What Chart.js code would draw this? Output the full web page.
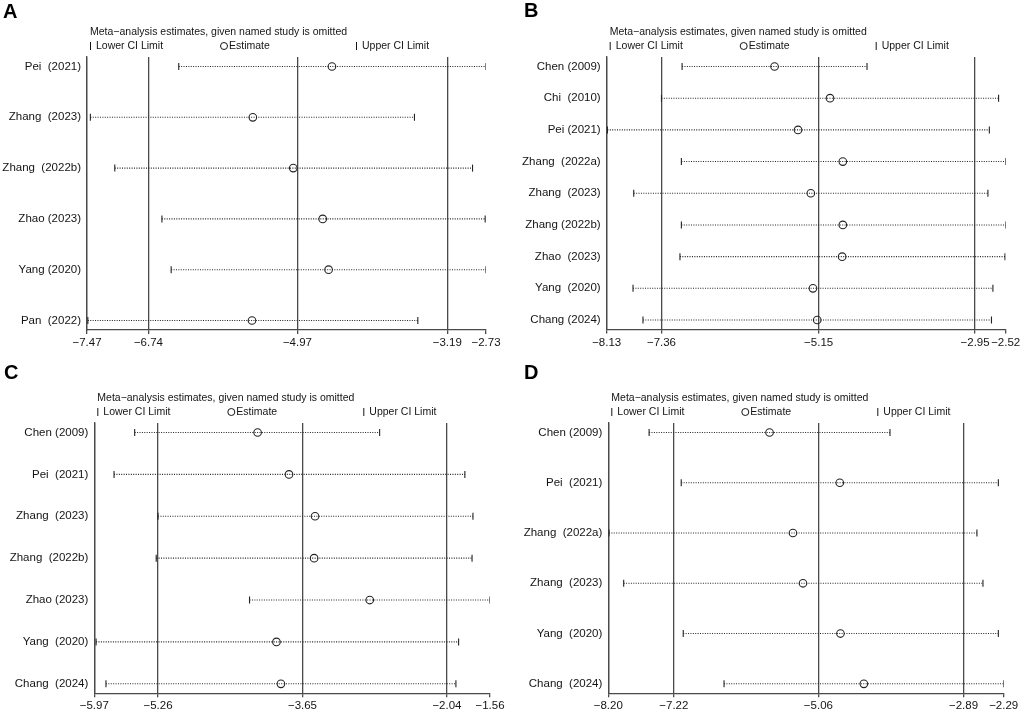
<!DOCTYPE html>
<html>
<head>
<meta charset="utf-8">
<script src="https://cdn.jsdelivr.net/npm/chart.js@4.4.1/dist/chart.umd.min.js"></script>
<style>
  html, body { margin: 0; padding: 0; background: #fff; }
  .panel { position: absolute; width: 512px; }
</style>
</head>
<body>
<div class="panel" style="left:0;top:0;height:355px"><canvas id="chartA"></canvas></div>
<div class="panel" style="left:512px;top:0;height:355px"><canvas id="chartB"></canvas></div>
<div class="panel" style="left:0;top:355px;height:357px"><canvas id="chartC"></canvas></div>
<div class="panel" style="left:512px;top:355px;height:357px"><canvas id="chartD"></canvas></div>
<script>
const TITLE = 'Meta\u2212analysis estimates, given named study is omitted';

// panel A
const A_STUDIES = ['Pei  (2021)', 'Zhang  (2023)', 'Zhang  (2022b)', 'Zhao (2023)', 'Yang (2020)', 'Pan  (2022)'];
const A_LOWER = [-6.38, -7.43, -7.14, -6.58, -6.47, -7.46];
const A_EST   = [-4.56, -5.50, -5.02, -4.67, -4.60, -5.51];
const A_UPPER = [-2.73, -3.58, -2.89, -2.74, -2.73, -3.54];
const A_TICKS = [-7.47, -6.74, -4.97, -3.19, -2.73];

// panel B
const B_STUDIES = ['Chen (2009)', 'Chi  (2010)', 'Pei (2021)', 'Zhang  (2022a)', 'Zhang  (2023)', 'Zhang (2022b)', 'Zhao  (2023)', 'Yang  (2020)', 'Chang (2024)'];
const B_LOWER = [-7.07, -7.36, -8.12, -7.08, -7.75, -7.08, -7.10, -7.76, -7.62];
const B_EST   = [-5.77, -4.99, -5.44, -4.81, -5.26, -4.81, -4.82, -5.23, -5.17];
const B_UPPER = [-4.47, -2.62, -2.75, -2.52, -2.77, -2.52, -2.53, -2.70, -2.72];
const B_TICKS = [-8.13, -7.36, -5.15, -2.95, -2.52];

// panel C
const C_STUDIES = ['Chen (2009)', 'Pei  (2021)', 'Zhang  (2023)', 'Zhang  (2022b)', 'Zhao (2023)', 'Yang  (2020)', 'Chang  (2024)'];
const C_LOWER = [-5.52, -5.75, -5.26, -5.28, -4.24, -5.95, -5.84];
const C_EST   = [-4.15, -3.80, -3.51, -3.52, -2.90, -3.94, -3.89];
const C_UPPER = [-2.79, -1.84, -1.75, -1.76, -1.56, -1.91, -1.94];
const C_TICKS = [-5.97, -5.26, -3.65, -2.04, -1.56];

// panel D
const D_STUDIES = ['Chen (2009)', 'Pei  (2021)', 'Zhang  (2022a)', 'Zhang  (2023)', 'Yang  (2020)', 'Chang  (2024)'];
const D_LOWER = [-7.59, -7.11, -8.19, -7.97, -7.08, -6.47];
const D_EST   = [-5.79, -4.74, -5.44, -5.29, -4.73, -4.38];
const D_UPPER = [-3.99, -2.37, -2.69, -2.60, -2.37, -2.29];
const D_TICKS = [-8.20, -7.22, -5.06, -2.89, -2.29];

const FONT = '"Liberation Sans", Arial, sans-serif';
const AXIS_COLOR = '#4a4a4a';
const INK = '#141414';

// title, legend row and panel letter above the plot
const headerPlugin = {
  id: 'header',
  afterDraw(chart, args, opts) {
    const { ctx, chartArea: { left, top } } = chart;
    ctx.save();
    ctx.fillStyle = '#000';
    ctx.textBaseline = 'middle';
    ctx.font = 'bold 20px ' + FONT;
    ctx.fillText(opts.letter, opts.lx, opts.ly);

    ctx.fillStyle = INK;
    ctx.font = '10.5px ' + FONT;
    ctx.fillText(TITLE, left + 3, top - 25);

    const y = top - 11;
    ctx.strokeStyle = INK;
    ctx.lineWidth = 1;
    ctx.beginPath();
    ctx.moveTo(left + 3.5, y - 4); ctx.lineTo(left + 3.5, y + 4);
    ctx.moveTo(left + 269.5, y - 4); ctx.lineTo(left + 269.5, y + 4);
    ctx.stroke();
    ctx.beginPath();
    ctx.arc(left + 137, y, 3.5, 0, Math.PI * 2);
    ctx.stroke();
    ctx.fillText('Lower CI Limit', left + 9, y);
    ctx.fillText('Estimate', left + 142, y);
    ctx.fillText('Upper CI Limit', left + 275, y);
    ctx.restore();
  }
};

function fmt(v) {
  return (v < 0 ? '\u2212' : '') + Math.abs(v).toFixed(2);
}

function makePanel(id, studies, lower, est, upper, ticks, box) {
  const n = studies.length;
  // keep roughly 9.5px between the outer rows and the axis ends
  const plotH = box.bottom - box.top;
  const step = (plotH - 19) / (n - 1);
  const padU = 9.5 / step;
  const xMax = ticks[ticks.length - 1];

  const datasets = studies.map((s, i) => ({
    type: 'line',
    data: [{ x: lower[i], y: i + 1 }, { x: upper[i], y: i + 1 }],
    borderColor: '#222',
    borderWidth: 1.1,
    borderDash: [1, 1.4],
    pointStyle: 'line',
    rotation: 90,
    pointRadius: 3.5,
    pointBorderWidth: 1.1,
    pointBorderColor: '#222',
    pointHoverRadius: 3.5,
    order: 2
  }));
  datasets.push({
    type: 'scatter',
    data: est.map((v, i) => ({ x: v, y: i + 1 })),
    pointStyle: 'circle',
    pointRadius: 3.8,
    pointBorderWidth: 1.1,
    pointBorderColor: '#222',
    pointBackgroundColor: 'rgba(0,0,0,0)',
    order: 1
  });

  new Chart(document.getElementById(id), {
    type: 'scatter',
    data: { datasets },
    plugins: [headerPlugin],
    options: {
      responsive: true,
      maintainAspectRatio: false,
      animation: false,
      events: [],
      layout: { padding: { left: 0, top: box.top, right: box.width - box.right, bottom: 0 } },
      plugins: {
        legend: { display: false },
        tooltip: { enabled: false },
        header: { letter: box.letter, lx: box.lx, ly: box.ly }
      },
      scales: {
        x: {
          type: 'linear',
          min: ticks[0],
          max: xMax,
          afterBuildTicks: s => { s.ticks = ticks.map(v => ({ value: v })); },
          afterFit: s => { s.height = box.height - box.bottom; s.paddingLeft = 0; s.paddingRight = 0; },
          grid: {
            color: c => (c.tick && c.tick.value === xMax) ? 'rgba(0,0,0,0)' : AXIS_COLOR,
            tickColor: AXIS_COLOR,
            lineWidth: 1.3,
            tickLength: 4
          },
          border: { display: true, color: AXIS_COLOR, width: 1.3 },
          ticks: {
            autoSkip: false,
            maxRotation: 0,
            padding: 2,
            color: INK,
            font: { family: FONT, size: 11.5 },
            callback: v => fmt(v)
          }
        },
        y: {
          type: 'linear',
          reverse: true,
          min: 1 - padU,
          max: n + padU,
          afterBuildTicks: s => { s.ticks = studies.map((_, i) => ({ value: i + 1 })); },
          afterFit: s => { s.width = box.left; s.paddingTop = 0; s.paddingBottom = 0; },
          grid: { display: false, drawTicks: false },
          border: { display: true, color: AXIS_COLOR, width: 1.3 },
          ticks: {
            padding: 6,
            color: INK,
            font: { family: FONT, size: 11.5 },
            callback: (v) => studies[Math.round(v) - 1]
          }
        }
      }
    }
  });
}

makePanel('chartA', A_STUDIES, A_LOWER, A_EST, A_UPPER, A_TICKS,
  { letter: 'A', lx: 3, ly: 12, left: 87, right: 486, top: 57, bottom: 330, width: 512, height: 355 });
makePanel('chartB', B_STUDIES, B_LOWER, B_EST, B_UPPER, B_TICKS,
  { letter: 'B', lx: 12, ly: 11, left: 94.7, right: 493.7, top: 57, bottom: 329.5, width: 512, height: 355 });
makePanel('chartC', C_STUDIES, C_LOWER, C_EST, C_UPPER, C_TICKS,
  { letter: 'C', lx: 4, ly: 18, left: 94.3, right: 490, top: 68, bottom: 338.3, width: 512, height: 357 });
makePanel('chartD', D_STUDIES, D_LOWER, D_EST, D_UPPER, D_TICKS,
  { letter: 'D', lx: 12, ly: 18, left: 96.3, right: 491.7, top: 68, bottom: 338.3, width: 512, height: 357 });
</script>
</body>
</html>
